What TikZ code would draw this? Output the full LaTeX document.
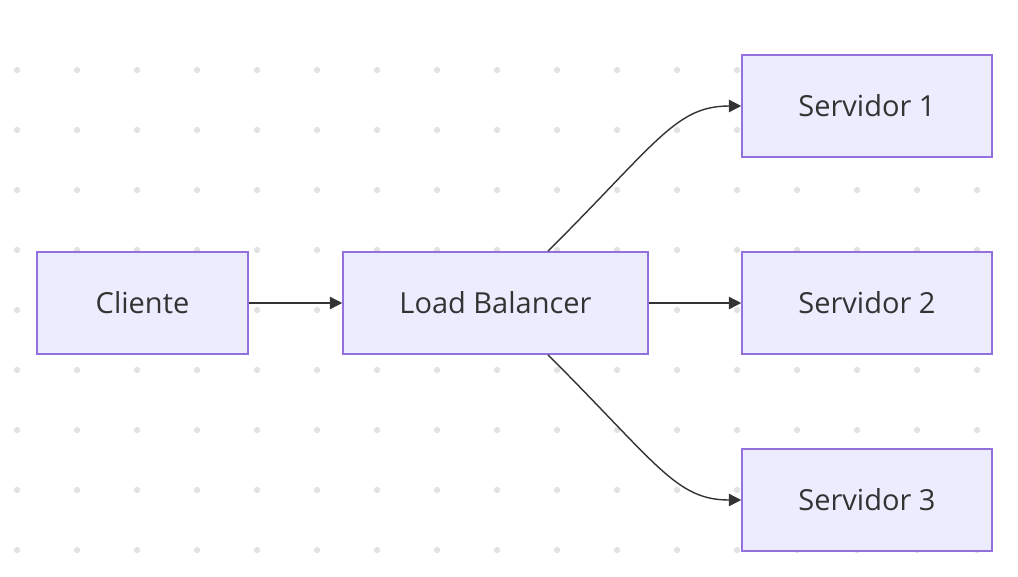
\documentclass[tikz,border=0pt]{standalone}
\usepackage{fontspec}
\setmainfont{Open Sans}
\usetikzlibrary{arrows.meta,positioning}
\definecolor{boxfill}{HTML}{ECECFF}
\definecolor{boxline}{HTML}{9370DB}
\definecolor{edge}{HTML}{333333}
\definecolor{dotc}{HTML}{E2E2E2}
\tikzset{
    box/.style={draw=boxline,fill=boxfill,line width=0.9pt,minimum height=2.04cm,
        inner sep=0pt,font=\fontsize{16.5}{19}\selectfont,text=edge},
    link/.style={draw=edge,line width=0.8pt,-{Triangle[length=7pt,width=7pt]}}
}
\begin{document}
\begin{tikzpicture}[x=0.02cm,y=-0.02cm]
\useasboundingbox (0,0) rectangle (1018,576);
\foreach \x in {17,77,...,1017} {
    \foreach \y in {70,130,...,550} {
        \fill[dotc] (\x,\y) circle (1.8pt);
    }
}
\node[box,minimum width=4.22cm] (cli) at (142.5,303) {Cliente};
\node[box,minimum width=6.1cm] (lb) at (495.5,303) {Load Balancer};
\node[box,minimum width=5cm] (s1) at (867,106) {Servidor 1};
\node[box,minimum width=5cm] (s2) at (867,303) {Servidor 2};
\node[box,minimum width=5cm] (s3) at (867,500) {Servidor 3};
\draw[link] (cli) -- (lb);
\draw[link] (lb) -- (s2);
\draw[link] ([xshift=1.05cm]lb.north) .. controls +(110,-110) and +(-65,0) .. (s1.west);
\draw[link] ([xshift=1.05cm]lb.south) .. controls +(110,110) and +(-65,0) .. (s3.west);
\end{tikzpicture}
\end{document}
